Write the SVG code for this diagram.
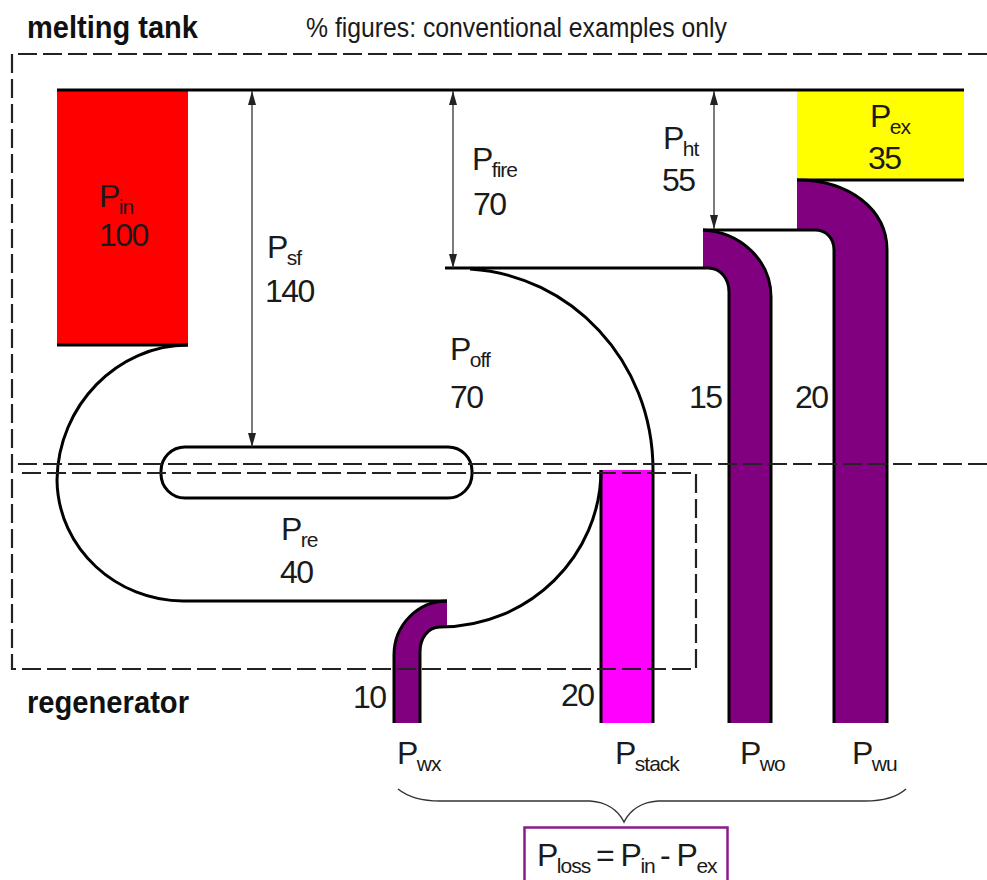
<svg xmlns="http://www.w3.org/2000/svg" width="987" height="880" viewBox="0 0 987 880">
<style>
text{font-family:"Liberation Sans",Arial,sans-serif;fill:#1a1a1a}
.l{font-size:32px;letter-spacing:-1.5px}
.s{font-size:21px;letter-spacing:-1px}
.b{font-size:31px;font-weight:bold;fill:#111}
.k{fill:none;stroke:#000;stroke-width:3}
.d{fill:none;stroke:#222;stroke-width:2.2;stroke-dasharray:19 6}
.a{fill:none;stroke:#333;stroke-width:1.3;marker-start:url(#ah);marker-end:url(#ah)}
.p{fill:#800080}
</style>
<defs>
<marker id="ah" markerUnits="userSpaceOnUse" markerWidth="14" markerHeight="8" refX="14" refY="4" orient="auto-start-reverse" viewBox="0 0 14 8"><path d="M0,0L14,4L0,8Z" fill="#222"/></marker>
</defs>
<rect width="987" height="880" fill="#fff"/>
<g id="node-pin"><rect x="57" y="90" width="131" height="255" fill="#f00"/><path class="k" d="M57,345H188"/>
<text class="l" x="99" y="207">P<tspan class="s" dy="7">in</tspan></text><text class="l" x="99" y="246">100</text></g>
<g id="node-pex"><rect x="797" y="90" width="167" height="90" fill="#ff0"/><path class="k" d="M797,180H964"/>
<text class="l" x="870" y="127">P<tspan class="s" dy="7">ex</tspan></text><text class="l" x="868" y="169">35</text></g>
<g id="node-pwu"><path class="p" d="M797,180C850,180 887,210 887,250V723H834V250C834,238 826,230 815,230H797Z"/><path class="k" d="M797,180C850,180 887,210 887,250V723M834,723V250C834,238 826,230 815,230H703"/>
<text class="l" x="852" y="764">P<tspan class="s" dy="7">wu</tspan></text><text class="l" x="795" y="408">20</text></g>
<g id="node-pwo"><path class="p" d="M703,230C740,232 771,260 771,297V723H729V292C729,278 720,268 708,268H703Z"/><path class="k" d="M703,230C740,232 771,260 771,297V723M729,723V292C729,278 720,268 708,268H445"/>
<text class="l" x="740" y="764">P<tspan class="s" dy="7">wo</tspan></text><text class="l" x="689" y="408">15</text></g>
<g id="node-pstack"><rect x="601" y="470" width="52" height="253" fill="#f0f"/><path class="k" d="M601,723V470M653,723V470"/>
<text class="l" x="615" y="764">P<tspan class="s" dy="7">stack</tspan></text><text class="l" x="561" y="706">20</text></g>
<g id="node-pwx"><path class="p" d="M394,723V655C394,625 418,601 447,601V627H440C428,627 420,638 420,652V723Z"/><path class="k" d="M394,723V655C394,625 418,601 447,601M420,723V652C420,638 428,627 440,627C530,627 601,555 601,470"/>
<text class="l" x="397" y="764">P<tspan class="s" dy="7">wx</tspan></text><text class="l" x="353" y="708">10</text></g>
<g id="node-furnace"><path class="k" d="M57,90H964M188,345C118,345 58,405 57,480C58,550 118,601 183,601H447M470,269C570,275 653,360 653,470"/><rect class="k" x="161" y="447" width="311" height="51" rx="24"/>
<text class="l" x="267" y="258">P<tspan class="s" dy="7">sf</tspan></text><text class="l" x="265" y="302">140</text>
<text class="l" x="472" y="170">P<tspan class="s" dy="7">fire</tspan></text><text class="l" x="473" y="215">70</text>
<text class="l" x="663" y="149">P<tspan class="s" dy="7">ht</tspan></text><text class="l" x="662" y="191">55</text>
<text class="l" x="450" y="360">P<tspan class="s" dy="7">off</tspan></text><text class="l" x="450" y="408">70</text>
<text class="l" x="281" y="540">P<tspan class="s" dy="7">re</tspan></text><text class="l" x="280" y="583">40</text></g>
<g id="connectors"><path class="a" d="M252,91V447"/><path class="a" d="M453,91V268"/><path class="a" d="M714,91V229"/>
<path d="M398,789C408,797 420,801 440,801H590C606,802 618,810 624,822C630,810 642,802 658,801H865C885,801 897,797 906,789" fill="none" stroke="#333" stroke-width="1.5"/></g>
<g id="boundaries"><path class="d" d="M987,54H12V669H696V473H18"/><path class="d" d="M18,464H987"/></g>
<g id="titles"><text class="b" x="27" y="38" textLength="171" lengthAdjust="spacingAndGlyphs">melting tank</text>
<text x="306" y="37" font-size="27" textLength="421" lengthAdjust="spacingAndGlyphs">% figures: conventional examples only</text>
<text class="b" x="27" y="713" textLength="162" lengthAdjust="spacingAndGlyphs">regenerator</text></g>
<g id="node-ploss"><rect x="524.5" y="827.5" width="203" height="60" fill="none" stroke="#8b1a8b" stroke-width="2.5"/>
<text class="l" x="537" y="866">P<tspan class="s" dy="7">loss</tspan><tspan x="596" dy="-7">= P</tspan><tspan class="s" dy="7">in</tspan><tspan x="660" dy="-7">- P</tspan><tspan class="s" dy="7">ex</tspan></text></g>
</svg>
